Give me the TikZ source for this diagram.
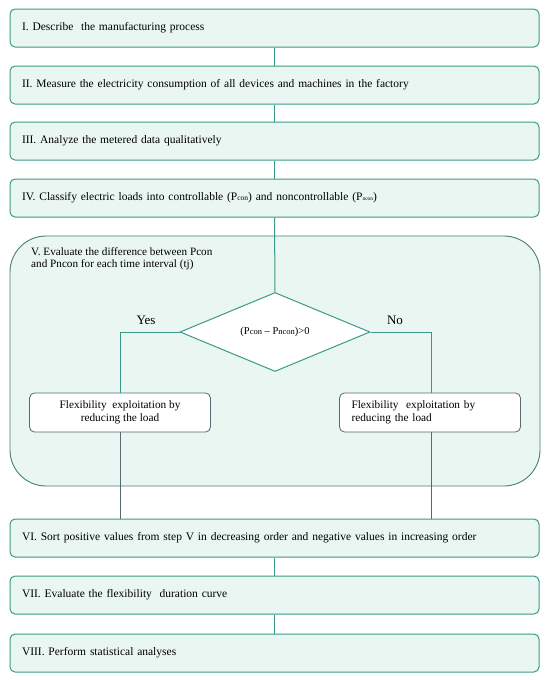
\documentclass[tikz,border=0pt]{standalone}
\usepackage{fontspec}
\setmainfont{Liberation Serif}
\usetikzlibrary{shapes.geometric}
\definecolor{mint}{HTML}{E9F6F2}
\definecolor{teal1}{HTML}{3A9A88}
\definecolor{grayt}{HTML}{566A70}
\definecolor{bigt}{HTML}{467F7A}
\begin{document}
\begin{tikzpicture}[x=1pt,y=-1pt,
  stepbox/.style={draw=teal1,line width=1pt,fill=mint,rounded corners=5pt,minimum width=529pt,minimum height=38pt,text width=505pt,align=left,inner sep=0pt,font=\fontsize{11.5}{13}\selectfont},
  flexbox/.style={draw=grayt,line width=0.8pt,fill=white,rounded corners=5pt,minimum width=181pt,minimum height=39pt,inner sep=0pt,font=\fontsize{11.3}{13.5}\selectfont},
  link/.style={draw=teal1,line width=1pt},
  glink/.style={draw=grayt,line width=0.8pt}]
\useasboundingbox (0,0) rectangle (550,680);
\node[stepbox] (s1) at (274.5,28) {I. Describe\ \ the manufacturing process};
\node[stepbox] (s2) at (274.5,85) {II. Measure the electricity consumption of all devices and machines in the factory};
\node[stepbox] (s3) at (274.5,141) {III. Analyze the metered data qualitatively};
\node[stepbox] (s4) at (274.5,198) {IV. Classify electric loads into controllable (P{\fontsize{7.5}{8}\selectfont con}) and noncontrollable (P{\fontsize{5.5}{6}\selectfont ncon})};
\node[draw=bigt,line width=0.9pt,fill=mint,rounded corners=36pt,minimum width=530pt,minimum height=250pt,inner sep=0pt] (big) at (275,361) {};
\node[anchor=north west,align=left,inner sep=0pt,font=\fontsize{11.2}{11.8}\selectfont] (v) at (31,247.5) {V. Evaluate the difference between Pcon\\and Pncon for each time interval (tj)};
\node[diamond,draw=teal1,line width=1pt,fill=white,minimum width=190pt,minimum height=79pt,inner sep=0pt,font=\fontsize{10.5}{12}\selectfont] (d) at (275,332) {(P{\fontsize{8.5}{9}\selectfont con} -- P{\fontsize{8.5}{9}\selectfont ncon})>0};
\node[flexbox,align=center] (fl) at (120,412.5) {Flexibility\ \ exploitation by\\reducing the load};
\node[flexbox,text width=157pt,align=left] (fr) at (430,412.5) {Flexibility\ \ exploitation by\\reducing the load};
\node[stepbox] (s6) at (274.5,538) {VI. Sort positive values from step V in decreasing order and negative values in increasing order};
\node[stepbox] (s7) at (274.5,595) {VII. Evaluate the flexibility\ \ duration curve};
\node[stepbox] (s8) at (274.5,653) {VIII. Perform statistical analyses};
\node[font=\fontsize{13}{15}\selectfont] (yes) at (146,320.5) {Yes};
\node[font=\fontsize{13}{15}\selectfont] (no) at (395,320.5) {No};
\coordinate (cl) at (120,332);
\coordinate (cr) at (431,332);
\path[link] (s1) -- (s2);
\path[link] (s2) -- (s3);
\path[link] (s3) -- (s4);
\path[link] (s4.south) -- (d.north);
\path[link] (d.west) -- (cl) -- (fl.north);
\path[link] (d.east) -- (cr) -- (fr.north -| cr);
\path[glink] (fl.south) -- (fl.south |- s6.north);
\path[glink] (fr.south -| cr) -- (cr |- s6.north);
\path[link] (s6) -- (s7);
\path[link] (s7) -- (s8);
\end{tikzpicture}
\end{document}
